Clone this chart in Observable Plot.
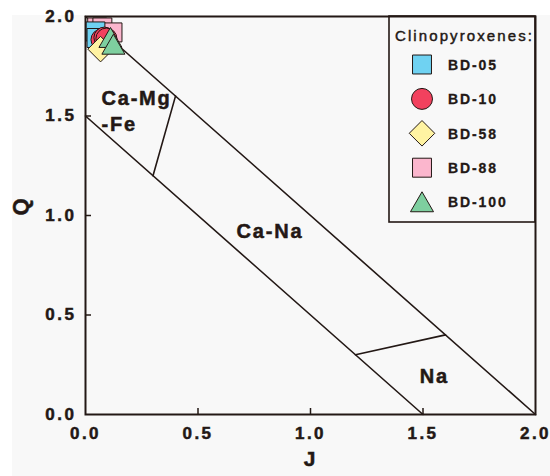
<!DOCTYPE html>
<html><head><meta charset="utf-8">
<script src="https://cdn.jsdelivr.net/npm/d3@7"></script>
<script src="https://cdn.jsdelivr.net/npm/@observablehq/plot@0.6"></script>
<style>
body{margin:0;background:#fff;}
#chart{position:relative;width:550px;height:476px;}
</style></head><body><div id="chart"></div>
<script>
// ---- data ----
const xTicks = [0, 0.5, 1, 1.5, 2];
const yTicks = [0, 0.5, 1, 1.5, 2];
const innerTicks = [0.5, 1, 1.5];

const boundaryNames = ["Q+J=2.0", "Q+J=1.5", "CaMgFe|CaNa", "CaNa|Na"];
const boundaryJ = [[0, 2], [0, 1.5], [0.3, 0.4], [1.2, 1.6]];
const boundaryQ = [[2, 0], [1.5, 0], [1.2, 1.6], [0.3, 0.4]];

const fieldNames = ["Ca-Mg", "-Fe", "Ca-Na", "Na"];
const fieldJ = [0.071, 0.071, 0.82, 1.55];
const fieldQ = [1.585, 1.458, 0.918, 0.188];
const fieldAnchor = ["start", "start", "middle", "middle"];

const series = ["BD-05", "BD-10", "BD-58", "BD-88", "BD-100"];
const pointsJ = [
  [0.044, 0.049],
  [0.071, 0.084, 0.093],
  [0.067],
  [0.052, 0.075, 0.12],
  [0.111, 0.124]
];
const pointsQ = [
  [1.925, 1.892],
  [1.884, 1.894, 1.889],
  [1.836],
  [1.945, 1.945, 1.920],
  [1.878, 1.844]
];

// ---- styles ----
const symbols = ["square", "circle", "diamond2", "square", "triangle2"];
const fills = ["#6fd2f2", "#f2415e", "#fff3a2", "#fbb6cd", "#7ecf9f"];
const radii = [10.7, 10.5, 11.5, 10.7, 11];
const drawOrder = [3, 0, 1, 2, 4];
const ink = "#231815";
const FONT = "'Liberation Sans', Arial, Helvetica, sans-serif";

const W = 550, H = 476, ML = 85, MR = 15, MT = 16, MB = 62;

const boundaryRows = boundaryNames.flatMap((n, i) =>
  boundaryJ[i].map((j, k) => ({name: n, J: j, Q: boundaryQ[i][k]})));
const fieldRows = fieldNames.map((n, i) => ({name: n, J: fieldJ[i], Q: fieldQ[i], anchor: fieldAnchor[i]}));

const dotMarks = drawOrder.map(si => Plot.dot(
  pointsJ[si].map((j, k) => ({J: j, Q: pointsQ[si][k], s: series[si]})),
  {x: "J", y: "Q", symbol: () => symbols[si], r: radii[si], fill: fills[si], stroke: ink, strokeWidth: 1}
));

const plot = Plot.plot({
  width: W, height: H,
  marginLeft: ML, marginRight: MR, marginTop: MT, marginBottom: MB,
  x: {domain: [0, 2]},
  y: {domain: [0, 2]},
  symbol: {type: "identity"},
  style: {background: "transparent", fontFamily: FONT, color: ink, overflow: "visible"},
  marks: [
    Plot.line(boundaryRows, {x: "J", y: "Q", z: "name", stroke: ink, strokeWidth: 1.6}),
    Plot.ruleX(innerTicks, {stroke: ink, strokeWidth: 1.5, insetTop: H - MT - MB - 6}),
    Plot.ruleY(innerTicks, {stroke: ink, strokeWidth: 1.5, insetRight: W - ML - MR - 6}),
    Plot.axisX(xTicks, {tickSize: 0, tickPadding: 12, tickFormat: d => d.toFixed(1), fontSize: 17, fontWeight: "bold", fill: ink, label: null}),
    Plot.axisY(yTicks, {tickSize: 0, tickPadding: 9, tickFormat: d => d.toFixed(1), fontSize: 17, fontWeight: "bold", fill: ink, label: null}),
    Plot.text(fieldRows.filter(d => d.anchor === "start"), {x: "J", y: "Q", text: "name", textAnchor: "start", fontSize: 20, fontWeight: "bold", fill: ink}),
    Plot.text(fieldRows.filter(d => d.anchor === "middle"), {x: "J", y: "Q", text: "name", textAnchor: "middle", fontSize: 20, fontWeight: "bold", fill: ink}),
    Plot.text(["J"], {frameAnchor: "bottom", dy: 51, text: d => d, fontSize: 21, fontWeight: "bold", fill: ink}),
    Plot.text(["Q"], {frameAnchor: "left", dx: -65, rotate: -90, text: d => d, fontSize: 22, fontWeight: "bold", fill: ink}),
    ...dotMarks,
    Plot.frame({stroke: ink, strokeWidth: 2})
  ]
});

const svg = d3.select(plot);
svg.insert("rect", ":first-child").attr("x", 12).attr("y", 15).attr("width", W - 12).attr("height", H - 15).attr("fill", "#f8f8f8");
const tickLabelSet = new Set(xTicks.concat(yTicks).map(d => d.toFixed(1)));
svg.selectAll("text").filter(function() { return tickLabelSet.has(this.textContent.trim()); })
  .style("font-size", "17px").style("font-weight", "bold").style("fill", ink)
  .style("stroke", ink).style("stroke-width", "0.5px").style("letter-spacing", "2.5px");
svg.selectAll("g[aria-label='text'] text").style("letter-spacing", "1.8px")
  .style("stroke", ink).style("stroke-width", "0.5px");

// ---- legend ----
const symMap = {square: d3.symbolSquare, circle: d3.symbolCircle, diamond2: d3.symbolDiamond2, triangle2: d3.symbolTriangle2};
const lg = svg.append("g").attr("font-family", FONT).attr("fill", ink).attr("text-anchor", "start");
lg.append("rect").attr("x", 389).attr("y", MT).attr("width", W - MR - 389).attr("height", 206)
  .attr("fill", "none").attr("stroke", ink).attr("stroke-width", 1.6);
lg.append("text").attr("x", 395).attr("y", 41).attr("font-size", 15).attr("stroke", ink).attr("stroke-width", 0.45)
  .style("letter-spacing", "2.1px").text("Clinopyroxenes:");
series.forEach((s, i) => {
  const cy = 64.5 + 34.4 * i;
  const dy = symbols[i] === "triangle2" ? 3 : 0;
  lg.append("path")
    .attr("d", d3.symbol(symMap[symbols[i]], Math.PI * radii[i] * radii[i])())
    .attr("transform", `translate(422,${cy + dy})`)
    .attr("fill", fills[i]).attr("stroke", ink).attr("stroke-width", 1);
  lg.append("text").attr("x", 448).attr("y", cy + 5.2).attr("font-size", 14).attr("font-weight", "bold")
    .attr("stroke", ink).attr("stroke-width", 0.3)
    .style("letter-spacing", "1.9px").text(s);
});

document.getElementById("chart").appendChild(plot);
</script></body></html>
